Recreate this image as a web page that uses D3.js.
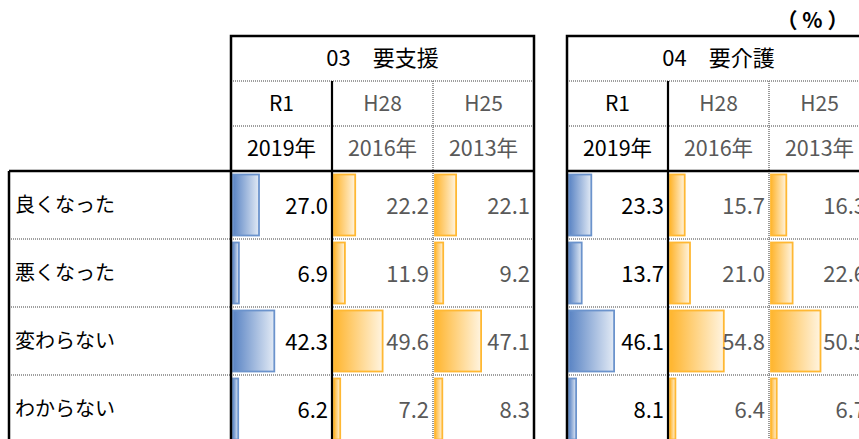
<!DOCTYPE html>
<html>
<head>
<meta charset="utf-8">
<script src="https://cdn.jsdelivr.net/npm/d3@7"></script>
<style>
  body { margin: 0; background: #fff; }
  text { font-family: "Noto Sans CJK JP", "Noto Sans", sans-serif; }
</style>
</head>
<body>
<div id="chart"></div>
<script>
// data
const categories = ['良くなった', '悪くなった', '変わらない', 'わからない'];
const groupTitles = ['03　要支援', '04　要介護'];
const eraLabels = ['R1', 'H28', 'H25'];
const yearLabels = ['2019年', '2016年', '2013年'];
const shienR1 = [27.0, 6.9, 42.3, 6.2];
const shienH28 = [22.2, 11.9, 49.6, 7.2];
const shienH25 = [22.1, 9.2, 47.1, 8.3];
const kaigoR1 = [23.3, 13.7, 46.1, 8.1];
const kaigoH28 = [15.7, 21.0, 54.8, 6.4];
const kaigoH25 = [16.3, 22.6, 50.5, 6.7];

const groups = [
  { title: groupTitles[0], series: [shienR1, shienH28, shienH25] },
  { title: groupTitles[1], series: [kaigoR1, kaigoH28, kaigoH25] }
];

const W = 859, H = 439;
const svg = d3.select('#chart').append('svg')
  .attr('width', W).attr('height', H);

// gradients
const defs = svg.append('defs');
function grad(id, c0, c1) {
  const g = defs.append('linearGradient').attr('id', id)
    .attr('x1', '0%').attr('x2', '100%').attr('y1', '0%').attr('y2', '0%');
  g.append('stop').attr('offset', '0%').attr('stop-color', c0);
  g.append('stop').attr('offset', '100%').attr('stop-color', c1);
}
grad('gBlue', '#5a84c4', '#e2eaf5');
grad('gOrange', '#ffb52e', '#fff4e0');

const headTop = 36, titleH = 45, eraH = 45, yearH = 45;
const bodyTop = headTop + titleH + eraH + yearH; // 171
const rowH = 68;
const labelLeft = 9;
const groupX = [231, 567];
const groupW = 303;

const y = d3.scaleBand().domain(categories)
  .range([bodyTop, bodyTop + rowH * categories.length]);
const x = d3.scaleLinear().domain([0, 100]).range([0, 100]);

const solid = (sel, w) => sel.attr('stroke', '#000').attr('stroke-width', w).attr('fill', 'none');
const dotted = sel => sel.attr('stroke', '#808080').attr('stroke-width', 1.6)
  .attr('stroke-dasharray', '1,1').attr('fill', 'none');

// label column
const lab = svg.append('g');
categories.forEach((c, i) => {
  if (i > 0) {
    lab.append('line').call(dotted)
      .attr('x1', labelLeft).attr('x2', groupX[0]).attr('y1', y(c)).attr('y2', y(c));
  }
  lab.append('text')
    .attr('x', labelLeft + 6).attr('y', y(c) + y.bandwidth() / 2 + 2)
    .attr('dominant-baseline', 'middle')
    .style('font-size', '20px').style('fill', '#000')
    .text(c);
});
lab.append('line').call(solid, 2.5)
  .attr('x1', labelLeft).attr('x2', groupX[0]).attr('y1', bodyTop).attr('y2', bodyTop);
lab.append('line').call(solid, 2.5)
  .attr('x1', labelLeft).attr('x2', labelLeft).attr('y1', bodyTop).attr('y2', H + 10);

// groups
groups.forEach((grp, gi) => {
  const gx = groupX[gi];
  const g = svg.append('g').attr('transform', `translate(${gx},0)`);
  const col = d3.scaleBand().domain(eraLabels).range([0, groupW]);

  // bars and values
  grp.series.forEach((vals, si) => {
    const cx = col(eraLabels[si]);
    const color = si === 0 ? 'Blue' : 'Orange';
    g.selectAll(`.bar-${si}`)
      .data(vals)
      .enter().append('rect')
      .attr('x', cx + 2)
      .attr('y', (d, i) => y(categories[i]) + 3.5)
      .attr('width', d => x(d) - 1)
      .attr('height', y.bandwidth() - 7)
      .attr('fill', `url(#g${color})`)
      .attr('stroke', si === 0 ? '#6b93cc' : '#ffb833')
      .attr('stroke-width', 1.8);

    g.selectAll(`.val-${si}`)
      .data(vals)
      .enter().append('text')
      .attr('x', cx + col.bandwidth() - 4)
      .attr('y', (d, i) => y(categories[i]) + y.bandwidth() / 2 + 3)
      .attr('text-anchor', 'end')
      .attr('dominant-baseline', 'middle')
      .style('font-size', '22px')
      .style('fill', si === 0 ? '#000' : '#595959')
      .text(d => d.toFixed(1));

    // headers
    g.append('text')
      .attr('x', cx + col.bandwidth() / 2).attr('y', headTop + titleH + eraH / 2 + 2)
      .attr('text-anchor', 'middle').attr('dominant-baseline', 'middle')
      .style('font-size', '21px').style('fill', si === 0 ? '#000' : '#595959')
      .text(eraLabels[si]);
    g.append('text')
      .attr('x', cx + col.bandwidth() / 2).attr('y', headTop + titleH + eraH + yearH / 2 + 2)
      .attr('text-anchor', 'middle').attr('dominant-baseline', 'middle')
      .style('font-size', '21.5px').style('fill', si === 0 ? '#000' : '#595959')
      .text(yearLabels[si]);
  });

  // title
  g.append('text')
    .attr('x', groupW / 2).attr('y', headTop + titleH / 2 + 2)
    .attr('text-anchor', 'middle').attr('dominant-baseline', 'middle')
    .style('font-size', '22px').style('fill', '#000')
    .text(grp.title);

  // grid lines
  [headTop + titleH, headTop + titleH + eraH].forEach(yy => {
    g.append('line').call(dotted).attr('x1', 0).attr('x2', groupW).attr('y1', yy).attr('y2', yy);
  });
  categories.slice(1).forEach(c => {
    g.append('line').call(dotted).attr('x1', 0).attr('x2', groupW).attr('y1', y(c)).attr('y2', y(c));
  });
  g.append('line').call(dotted)
    .attr('x1', col('H25')).attr('x2', col('H25'))
    .attr('y1', headTop + titleH).attr('y2', H + 10);
  g.append('line').call(solid, 2.2)
    .attr('x1', col('H28')).attr('x2', col('H28'))
    .attr('y1', headTop + titleH).attr('y2', H + 10);
  g.append('line').call(solid, 2.5)
    .attr('x1', 0).attr('x2', groupW).attr('y1', bodyTop).attr('y2', bodyTop);
  g.append('path').call(solid, 2.5)
    .attr('d', `M0,${H + 10}V${headTop}H${groupW}V${H + 10}`);
});

// unit
svg.append('text')
  .attr('x', 815).attr('y', 22)
  .attr('text-anchor', 'middle').attr('dominant-baseline', 'middle')
  .style('font-size', '21px').style('font-weight', 'bold').style('fill', '#000')
  .style('letter-spacing', '5px')
  .text('（%）');
</script>
</body>
</html>
